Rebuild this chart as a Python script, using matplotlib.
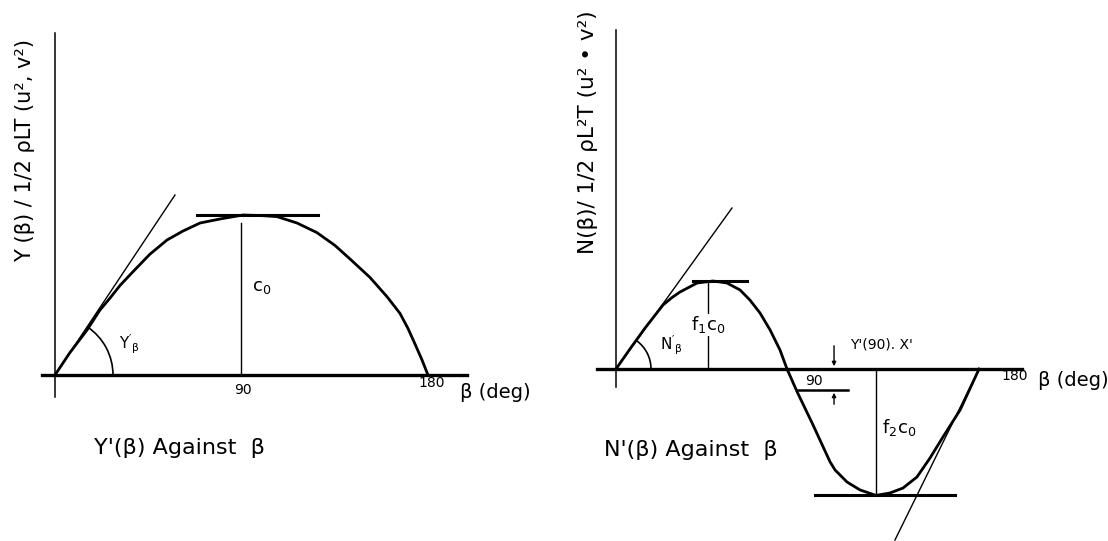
import numpy as np
import matplotlib
matplotlib.use("Agg")
import matplotlib.pyplot as plt
from matplotlib.patches import Arc

plt.rcParams["mathtext.default"] = "regular"
plt.rcParams["font.family"] = "DejaVu Sans"

# ---- Y'(beta): sway force coefficient, in units of c0 ----
y_beta = [0, 7.2, 15.4, 21.7, 26.5, 31.4, 37.6, 45.8, 54.1, 61.8, 70.0, 79.6, 90.7, 98.9,
          107.1, 116.8, 126.4, 135.1, 142.4, 152.0, 160.2, 166.5, 170.4, 173.7, 177.1, 180]
y_vals = [0, 0.14, 0.28, 0.406, 0.48, 0.56, 0.645, 0.755, 0.844, 0.90, 0.95, 0.975, 1.0, 0.997,
          0.99, 0.95, 0.89, 0.81, 0.725, 0.61, 0.49, 0.385, 0.29, 0.195, 0.095, 0]
y_tangent_beta = [0, 57.9]
y_tangent_vals = [0, 1.125]
y_peak_beta = [68.5, 126.9]
y_peak = 1.0

# ---- N'(beta): yaw moment coefficient, in units of c0 ----
n_beta = [0, 6.9, 14.4, 23.3, 27.8, 31.7, 40.2, 48.1, 55.0, 61.5, 66.4, 71.4, 76.4, 81.3, 84.8,
          89.7, 97.7, 106.1, 108.6, 114.5, 121.0, 128.9, 135.8, 142.3, 149.2, 155.7, 162.1,
          170.6, 180]
n_vals = [0, 0.125, 0.256, 0.40, 0.447, 0.481, 0.5375, 0.55, 0.5375, 0.494, 0.431, 0.35, 0.244,
          0.119, 0, -0.14, -0.35, -0.58, -0.631, -0.706, -0.756, -0.79, -0.775, -0.744,
          -0.675, -0.556, -0.425, -0.256, 0]
n_tangent0_beta = [0, 57.5]
n_tangent0_vals = [0, 1.006]
n_tangent180_beta = [180, 138.3]
n_tangent180_vals = [0, -1.069]
f1c0 = 0.55
f2c0 = -0.79
n_f1_beta = 45.6
n_f2_beta = 128.9
n_peak_beta = [38.2, 64.9]
n_trough_beta = [98.7, 168.1]
offset_beta = 108.1          # position of the Y'(90).X' offset marker
offset_bar_beta = [89.7, 115.0]

W, H = 1108, 541
fig = plt.figure(figsize=(W / 100, H / 100), dpi=100)


def add_panel(x0, x1, y0, y1):
    ax = fig.add_axes([x0 / W, 1 - y1 / H, (x1 - x0) / W, (y1 - y0) / H])
    ax.spines["left"].set_position(("data", 0))
    ax.spines["bottom"].set_position(("data", 0))
    ax.spines["right"].set_visible(False)
    ax.spines["top"].set_visible(False)
    ax.spines["left"].set_linewidth(1.1)
    ax.spines["bottom"].set_linewidth(2.4)
    ax.set_xticks([])
    ax.set_yticks([])
    ax.patch.set_alpha(0)
    return ax


def angle_arc(ax, tb, tv, r_px, px_per_deg, px_per_unit):
    ang = np.degrees(np.arctan2(tv[1] - tv[0], tb[1] - tb[0]))
    ax.add_patch(Arc((tb[0], tv[0]), 2 * r_px / px_per_deg, 2 * r_px / px_per_unit,
                     theta1=0, theta2=ang, lw=1.2, color="black", clip_on=False))


# ---------------- left panel ----------------
ax1 = add_panel(42, 467, 33, 397)
ax1.set_xlim(-13 / 2.072, 412 / 2.072)
ax1.set_ylim(-22 / 160, 342 / 160)

ax1.plot(y_beta, y_vals, color="black", lw=2.0, solid_joinstyle="round")
ax1.plot(y_tangent_beta, y_tangent_vals, color="black", lw=1.0)
ax1.plot(y_peak_beta, [y_peak, y_peak], color="black", lw=2.2)
ax1.plot([90, 90], [0, 0.95 * y_peak], color="black", lw=1.0)
angle_arc(ax1, y_tangent_beta, y_tangent_vals, 58, 2.072, 160)

ax1.text(95, 0.55, "$c_0$", fontsize=13, va="center")
ax1.text(31, 0.19, "$Y'_\\beta$", fontsize=11, va="center")
ax1.text(90.5, -0.094, "90", fontsize=10, ha="center", va="center")
ax1.text(182, -0.05, "180", fontsize=10, ha="center", va="center")
fig.text(460 / W, 1 - 392 / H, "β (deg)", fontsize=14, va="center")
fig.text(25 / W, 1 - 150 / H, "Y (β) / 1/2 ρLT (u², v²)", fontsize=15,
         rotation=90, ha="center", va="center")
fig.text(180 / W, 1 - 448 / H, "Y'(β) Against  β", fontsize=16, ha="center", va="center")

# ---------------- right panel ----------------
ax2 = add_panel(597, 1022, 30, 387)
ax2.set_xlim(-19 / 2.017, 406 / 2.017)
ax2.set_ylim(-18 / 160, 339 / 160)

ax2.plot(n_beta, n_vals, color="black", lw=2.0, clip_on=False, solid_joinstyle="round")
ax2.plot(n_tangent0_beta, n_tangent0_vals, color="black", lw=1.0)
ax2.plot(n_tangent180_beta, n_tangent180_vals, color="black", lw=1.0, clip_on=False)
ax2.plot(n_peak_beta, [f1c0, f1c0], color="black", lw=2.2)
ax2.plot(n_trough_beta, [f2c0, f2c0], color="black", lw=2.2, clip_on=False)
ax2.plot([n_f1_beta, n_f1_beta], [0, f1c0 - 0.01], color="black", lw=1.0)
ax2.plot([n_f2_beta, n_f2_beta], [0, f2c0], color="black", lw=1.0, clip_on=False)
angle_arc(ax2, n_tangent0_beta, n_tangent0_vals, 35, 2.017, 160)

# offset marker Y'(90).X'
ax2.annotate("", xy=(offset_beta, 0), xytext=(offset_beta, 0.1625),
             arrowprops=dict(arrowstyle="-|>", lw=1.0, color="black", mutation_scale=6))
ax2.plot(offset_bar_beta, [-0.131, -0.131], color="black", lw=1.8, clip_on=False)
ax2.annotate("", xy=(offset_beta, -0.131), xytext=(offset_beta, -0.2375),
             arrowprops=dict(arrowstyle="-|>", lw=1.0, color="black", mutation_scale=6),
             annotation_clip=False)

ax2.text(n_f1_beta, 0.275, "$f_1c_0$", fontsize=13, ha="center", va="center",
         bbox=dict(facecolor="white", edgecolor="none", pad=0.5))
ax2.text(131.9, -0.3625, "$f_2c_0$", fontsize=13, va="center")
ax2.text(21.8, 0.15, "$N'_\\beta$", fontsize=11, va="center")
ax2.text(116, 0.15, "Y'(90). X'", fontsize=10, va="center")
ax2.text(98.2, -0.075, "90", fontsize=10, ha="center", va="center")
ax2.text(197.5, -0.045, "180", fontsize=10, ha="center", va="center", clip_on=False)
fig.text(1038 / W, 1 - 381 / H, "β (deg)", fontsize=14, va="center")
fig.text(588 / W, 1 - 132 / H, "N(β)/ 1/2 ρL²T (u² • v²)", fontsize=15.5,
         rotation=90, ha="center", va="center")
fig.text(691 / W, 1 - 450 / H, "N'(β) Against  β", fontsize=16, ha="center", va="center")

fig.savefig("out.png", dpi=100)
